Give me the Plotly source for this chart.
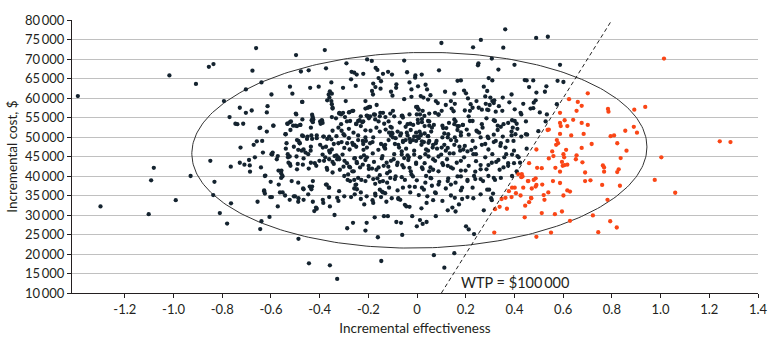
import numpy as np
import plotly.graph_objects as go

WTP = 100000  # willingness-to-pay threshold, $ per unit effectiveness

# (incremental effectiveness, incremental cost in $1000)
far_left = [(-1.393,60.5),(-1.017,65.8),(-0.908,63.6),(-0.855,68.0),(-0.836,68.7),(-0.793,59.2),(-0.661,72.8),(-0.676,67.0),(-0.703,62.2),(-0.770,55.1),(-0.728,57.5),(-0.746,53.4),(-0.738,53.3),(-0.714,53.4),(-0.703,56.2),(-0.679,56.8),(-0.658,48.9),(-0.671,48.0),(-0.725,47.3),(-0.666,44.8),(-0.849,43.9),(-1.081,42.1),(-0.765,42.4),(-0.728,43.4),(-0.709,42.9),(-0.690,44.1),(-0.687,42.7),(-0.686,41.1),
(-1.300,32.2),(-1.092,38.9),(-1.102,30.2),(-0.991,33.8),(-0.930,40.0),(-0.832,38.5),(-0.837,35.1),(-0.810,30.5),(-0.780,27.8),(-0.764,33.0),(-0.655,33.4),
(-0.639,64.0),(-0.617,56.3),(-0.614,57.9),(-0.647,52.3),(-0.617,51.4),(-0.633,46.0),(-0.623,40.1),(-0.628,36.1),(-0.625,35.5),(-0.639,28.4),(-0.644,26.4)]

upper_cloud = [(0.362,77.6),(0.262,74.9),(0.100,74.1),(0.230,73.0),(0.354,72.9),(-0.497,71.0),(-0.379,72.3),(0.307,70.1),(0.252,68.9),(0.250,68.4),(0.400,68.5),(-0.053,69.6),(-0.205,69.9),(-0.186,69.5),(-0.290,68.9),(-0.170,67.7),(-0.163,67.2),(-0.374,67.6),(-0.477,66.8),(-0.445,67.1),(-0.269,66.7),(-0.258,66.5),(-0.248,66.0),(-0.221,66.2),(-0.140,66.2),(-0.119,66.7),(-0.103,66.0),(-0.041,66.6),(-0.007,65.8),(0.019,66.0),(0.090,67.1),(-0.271,64.8),(-0.158,65.1),(-0.148,64.3),(-0.352,64.0),(-0.031,64.0),(-0.008,65.2),(0.166,64.4),(0.180,64.5),(0.294,65.1),(0.309,64.5),(0.334,67.3),(-0.522,62.9),(-0.512,61.1),(-0.439,62.6),(-0.404,62.9),(-0.304,62.6),(-0.252,63.1),(-0.180,63.7),(-0.171,62.8),(-0.150,62.4),(-0.085,63.5),(-0.086,62.6),(-0.023,62.2),(0.004,63.0),(0.035,63.4),(0.041,62.2),(-0.598,60.9),(-0.471,59.0),(-0.358,61.7),(-0.363,60.9),(-0.350,61.1),(-0.360,60.1),(-0.369,59.4),(-0.293,59.2),(-0.185,61.8),(-0.181,60.9),(-0.107,61.6),(-0.101,60.6),(-0.053,59.7),(-0.023,60.3),(0.015,60.5),(0.026,60.1),(0.045,59.6),(0.055,60.7),(0.077,59.2),(0.085,58.7),(0.115,61.6),(0.153,61.1),(0.139,59.2),(0.193,61.9),(0.201,61.2),(0.209,59.9),(0.244,59.2),(0.274,62.9),(0.288,61.8),(0.301,60.1),(0.309,59.2),(0.317,59.4),(0.280,60.4),(0.352,60.1),(0.388,60.9),
(-0.498,56.0),(-0.352,59.2),(-0.347,57.5),(-0.429,55.2),(-0.428,54.4),(-0.390,54.1),(-0.319,56.2),(-0.312,55.8),(-0.277,56.4),(-0.262,56.7),(-0.212,59.2),(-0.202,57.5),(-0.193,57.7),(-0.166,58.2),(-0.204,55.4),(-0.193,55.3),(-0.151,56.2),(-0.130,55.1),(-0.099,56.7),(-0.063,55.4),(0.001,57.7),(0.007,57.0),(-0.001,55.8),(0.023,56.7),(0.030,55.4),(0.020,54.6),(0.088,55.8),(0.101,56.7),(0.155,58.5),(0.150,56.6),(0.196,56.8),(0.217,56.7),(0.253,57.5),(0.288,57.0),(0.293,56.9),(0.323,56.5),(0.336,57.9),(0.379,58.9),(0.401,57.1),
(-0.644,52.4),(-0.590,52.9),(-0.533,53.4),(-0.522,53.8),(-0.509,52.9),(-0.493,52.8),(-0.479,53.1),(-0.471,54.5),(-0.436,52.4),(-0.433,54.3),(-0.398,54.0),(-0.333,54.8),(-0.312,53.3),(-0.296,55.1),(-0.250,53.4),(-0.236,54.3),(-0.225,53.8),(-0.198,54.8),(-0.173,55.7),(-0.135,53.4),(-0.117,54.0),(-0.109,52.6),(-0.071,53.7),(-0.058,55.0),(-0.028,53.4),(-0.016,53.1),(0.003,54.4),(0.031,52.8),(0.050,54.0),(0.069,53.1),(0.104,52.9),(0.120,52.3),(0.158,54.0),(0.166,52.8),(0.188,53.1),(0.217,54.1),(0.266,53.3),(0.285,54.8),(0.320,54.1),(0.331,52.9),(0.344,52.6),(0.374,53.6),(0.393,52.4)]

middle_band = [(-0.636,49.0),(-0.598,45.6),(-0.541,50.7),(-0.520,51.8),(-0.539,47.0),(-0.530,44.8),(-0.522,43.1),(-0.506,47.5),(-0.495,45.0),(-0.487,49.0),(-0.482,48.4),(-0.468,50.2),(-0.466,46.8),(-0.452,49.5),(-0.447,45.6),(-0.431,49.5),(-0.436,47.5),(-0.412,49.7),(-0.398,48.0),(-0.387,47.3),(-0.385,50.1),(-0.369,49.5),(-0.352,49.4),(-0.358,46.0),(-0.339,45.1),(-0.328,44.3),(-0.323,44.8),(-0.306,45.5),(-0.298,50.4),(-0.287,48.4),(-0.277,46.8),(-0.263,48.0),(-0.250,47.5),(-0.255,44.6),(-0.242,50.4),(-0.223,49.0),(-0.212,49.9),(-0.220,46.7),(-0.206,47.3),(-0.231,44.8),(-0.193,48.4),(-0.182,45.8),(-0.180,49.9),(-0.159,46.7),(-0.136,47.7),(-0.131,47.0),(-0.117,49.2),(-0.115,51.1),(-0.107,50.4),(-0.101,50.9),(-0.088,49.7),(-0.077,48.0),(-0.069,50.4),(-0.058,49.0),(-0.045,47.0),(-0.053,44.6),(-0.039,50.4),(-0.028,48.7),(-0.017,49.2),(-0.004,49.0),(0.001,50.1),(0.010,51.4),(0.015,50.7),(0.018,48.0),(0.028,48.7),(0.037,46.8),(0.045,50.2),(0.047,48.5),(0.058,51.4),(0.064,47.3),(0.080,49.0),(0.104,49.9),(0.112,48.0),(0.126,47.2),(0.128,50.7),(0.155,49.9),(0.161,49.0),(0.174,47.5),(0.180,50.4),(0.196,47.7),(0.212,50.6),(0.228,49.0),(0.239,47.3),(0.244,51.6),(0.261,49.9),(0.280,48.2),(0.293,49.7),(0.315,50.6),(0.323,49.0),(0.342,47.7),(0.352,50.1),(0.363,47.3),(0.371,49.0),(0.388,50.4),(0.396,49.0),
(-0.641,42.2),(-0.595,45.5),(-0.576,44.3),(-0.557,41.4),(-0.490,43.1),(-0.466,44.5),(-0.436,43.4),(-0.414,42.6),(-0.382,43.9),(-0.371,42.1),(-0.342,43.1),(-0.317,41.6),(-0.298,43.9),(-0.279,42.4),(-0.260,41.2),(-0.247,43.3),(-0.223,42.9),(-0.206,44.8),(-0.198,41.8),(-0.177,43.6),(-0.158,42.2),(-0.142,45.1),(-0.125,43.4),(-0.112,41.2),(-0.096,44.3),(-0.082,42.8),(-0.063,45.5),(-0.055,42.2),(-0.036,44.1),(-0.026,41.2),(-0.012,45.5),(-0.004,43.1),(0.012,44.8),(0.023,41.8),(0.031,43.3),(0.047,45.0),(0.055,42.2),(0.074,43.9),(0.088,41.2),(0.099,45.5),(0.107,42.8),(0.123,44.3),(0.139,42.2),(0.150,45.8),(0.163,43.4),(0.180,41.4),(0.193,44.8),(0.212,42.6),(0.231,45.6),(0.242,43.8),(0.261,41.7),(0.280,44.8),(0.293,42.8),(0.309,45.6),(0.325,43.6),(0.339,41.6),(0.358,44.8),(0.374,42.6),(0.390,45.5),(0.398,43.3)]

lower_cloud = [(-0.625,40.0),(-0.558,39.5),(-0.568,37.8),(-0.628,36.3),(-0.603,34.6),(-0.552,35.8),(-0.506,34.8),(-0.487,34.3),(-0.468,36.8),(-0.441,37.3),(-0.431,37.3),(-0.428,38.7),(-0.371,37.8),(-0.363,37.0),(-0.387,33.9),(-0.328,34.4),(-0.320,36.1),(-0.285,39.0),(-0.271,34.6),(-0.258,36.8),(-0.250,37.8),(-0.242,39.5),(-0.231,35.8),(-0.217,32.7),(-0.180,33.1),(-0.171,35.0),(-0.144,36.0),(-0.131,35.6),(-0.163,39.4),(-0.153,38.5),(-0.115,37.0),(-0.088,39.9),(-0.077,34.3),(-0.069,33.9),(-0.050,32.6),(-0.031,37.3),(-0.017,39.9),(0.007,35.1),(0.020,37.0),(0.034,38.3),(0.042,34.8),(0.039,33.1),(0.055,39.5),(0.077,35.6),(0.088,37.8),(0.104,33.6),(0.126,38.7),(0.139,37.8),(0.155,34.4),(0.166,39.9),(0.185,37.0),(0.207,39.0),(0.231,34.3),(0.239,39.2),(0.274,31.2),(0.296,36.5),(0.304,34.3),(0.315,39.5),
(-0.606,29.5),(-0.487,23.9),(-0.422,31.0),(-0.412,31.6),(-0.339,30.0),(-0.287,26.6),(-0.263,28.0),(-0.207,28.0),(-0.212,26.0),(-0.161,24.3),(-0.174,29.4),(-0.136,29.7),(-0.120,29.7),(-0.085,28.2),(-0.066,28.0),(-0.061,24.9),(-0.020,29.7),(-0.001,27.1),(0.012,28.7),(0.023,27.7),(0.039,28.2),(0.077,29.7),(0.126,31.2),(0.158,30.9),(0.201,27.1),(0.212,26.3),(0.234,25.1),(-0.444,17.6),(-0.358,17.1),(-0.328,13.6),(-0.147,18.2),(0.069,19.7),(0.112,16.5),(0.153,20.2)]

core_left = [(-0.472,59.0),(-0.350,58.4),(-0.347,57.3),(-0.212,57.3),(-0.196,57.7),(-0.266,56.7),(-0.280,56.3),(-0.320,56.0),(-0.304,56.2),(-0.496,55.8),(-0.431,55.7),(-0.428,54.8),(-0.426,54.5),(-0.391,54.3),(-0.388,53.6),(-0.350,55.1),(-0.231,55.3),(-0.207,55.5),(-0.177,55.8),(-0.140,56.2),(-0.153,55.3),(-0.110,56.0),(-0.094,55.3),(-0.590,52.9),(-0.531,53.4),(-0.518,54.0),(-0.499,52.9),(-0.480,53.1),(-0.539,50.7),(-0.428,53.8),(-0.396,53.4),(-0.288,54.0),(-0.275,54.1),(-0.242,54.1),(-0.221,54.0),(-0.250,53.3),(-0.231,52.8),(-0.323,52.4),(-0.172,54.5),(-0.158,54.0),(-0.347,51.6),(-0.310,51.6),(-0.261,51.1),(-0.280,52.1),(-0.212,51.7),(-0.191,51.6),(-0.167,52.4),(-0.153,51.4),(-0.129,51.9),(-0.104,52.4),(-0.104,51.1),(-0.472,50.4),(-0.450,50.1),(-0.434,50.4),(-0.412,50.4),(-0.383,50.1),(-0.361,50.1),(-0.331,50.2),(-0.302,50.7),(-0.280,49.7),(-0.493,49.2),(-0.482,48.4),(-0.488,46.7),(-0.536,48.4),(-0.593,46.0),(-0.572,45.1),(-0.531,45.6),(-0.523,45.0),(-0.474,46.5),(-0.458,46.0),(-0.437,46.5),(-0.374,47.5),(-0.342,48.2),(-0.388,45.5),(-0.361,46.5),(-0.350,46.8),(-0.323,48.4),(-0.310,48.7),(-0.299,47.2),(-0.266,48.5),(-0.258,48.0),(-0.242,49.2),(-0.221,48.2),(-0.210,49.0),(-0.183,48.7),(-0.148,48.2),(-0.134,47.3),(-0.131,48.0),(-0.099,49.9),(-0.091,48.2),
(-0.569,41.4),(-0.558,40.7),(-0.553,40.0),(-0.528,43.4),(-0.520,42.6),(-0.493,41.7),(-0.469,42.9),(-0.445,41.9),(-0.420,43.3),(-0.401,43.9),(-0.377,44.8),(-0.361,44.3),(-0.347,43.6),(-0.331,45.3),(-0.320,44.3),(-0.369,41.6),(-0.347,40.9),(-0.302,42.4),(-0.288,43.3),(-0.275,42.2),(-0.258,44.5),(-0.248,43.6),(-0.266,41.2),(-0.234,42.2),(-0.218,45.3),(-0.212,44.1),(-0.199,42.6),(-0.185,41.9),(-0.167,41.6),(-0.145,44.5),(-0.137,42.6),(-0.118,42.4),(-0.123,40.7),(-0.107,43.9),(-0.094,45.6),
(-0.601,38.5),(-0.553,39.9),(-0.515,38.7),(-0.488,38.3),(-0.466,36.6),(-0.437,37.2),(-0.434,36.6),(-0.374,37.8),(-0.361,37.0),(-0.299,40.0),(-0.283,40.4),(-0.275,38.7),(-0.258,39.0),(-0.253,37.7),(-0.247,36.6),(-0.229,39.0),(-0.212,38.7),(-0.199,39.9),(-0.180,39.2),(-0.172,38.0),(-0.153,40.2),(-0.140,38.7),(-0.123,38.3),(-0.110,39.5),(-0.091,39.2),(-0.153,36.5),(-0.140,35.8),(-0.596,34.6),(-0.563,35.8),(-0.542,35.0),(-0.523,33.9),(-0.501,34.8),(-0.488,33.4),(-0.466,33.9),(-0.447,35.3),(-0.428,33.4),(-0.385,33.1),(-0.361,34.6),(-0.323,33.6),(-0.299,34.8),(-0.256,35.3),(-0.231,34.1),(-0.207,34.8),(-0.183,33.8),(-0.172,35.5),(-0.148,34.6),(-0.126,33.4),(-0.104,34.3),(-0.572,32.2),(-0.415,31.9),(-0.358,32.2)]

core_right = [(-0.004,57.7),(0.004,57.2),(0.012,55.8),(0.050,56.0),(0.074,56.2),(0.088,55.7),(-0.061,55.5),(-0.031,55.8),(0.118,58.2),(0.142,57.3),(0.220,58.4),(0.228,57.5),(0.282,58.5),(0.298,58.2),(0.315,58.7),(0.266,57.0),(0.350,56.7),(0.428,55.8),(0.212,55.3),(0.153,54.5),(-0.039,53.3),(-0.047,52.6),(0.004,53.6),(0.020,53.8),(0.045,54.1),(0.050,52.9),(0.061,52.4),(0.107,52.3),(0.131,53.6),(0.153,53.3),(0.172,52.8),(0.188,53.1),(0.228,54.1),(0.269,52.4),(0.315,54.3),(0.355,53.3),(0.390,54.3),(-0.080,51.4),(-0.066,50.9),(-0.042,51.1),(-0.026,51.8),(-0.012,50.1),(-0.004,51.1),(0.015,50.4),(0.031,50.9),(0.045,50.2),(-0.058,48.7),(-0.047,49.2),(-0.031,49.5),(0.007,49.7),(0.020,48.9),(0.050,49.0),(0.066,48.0),(0.077,48.4),(0.112,50.9),(0.126,49.9),(0.139,49.2),(0.166,51.8),(0.180,51.2),(0.204,51.9),(0.247,51.4),(0.255,51.1),(0.290,50.1),(0.331,51.8),(0.388,51.4),(0.404,50.7),(0.082,47.0),(0.101,47.3),(0.118,46.5),(0.134,45.8),(0.153,48.0),(0.177,46.5),(0.190,46.8),(0.207,46.3),(0.223,46.7),(0.242,45.6),(0.266,48.0),(0.293,46.8),(0.315,48.7),(0.344,48.4),(0.366,45.6),(0.398,46.5),(-0.074,47.3),(-0.063,46.3),(-0.039,45.3),(-0.034,44.8),(-0.012,46.5),(0.012,44.8),(0.034,45.6),(0.045,46.5),(0.066,44.3),(0.088,45.0),
(-0.080,43.4),(-0.061,42.8),(-0.031,42.1),(-0.004,43.4),(0.020,42.2),(0.050,41.2),(0.066,41.6),(0.104,43.3),(0.126,42.6),(0.147,41.9),(0.180,43.9),(0.199,41.4),(0.239,41.1),(0.261,42.8),(0.285,41.7),(0.307,43.4),(0.334,44.1),(0.355,42.2),(0.374,43.3),(-0.063,39.7),(-0.050,39.0),(-0.023,40.4),(-0.001,38.9),(0.037,40.0),(0.058,39.4),(0.091,38.5),(0.128,39.4),(0.158,38.3),(0.180,39.9),(0.207,38.7),(0.234,40.0),(0.261,39.2),(0.271,38.7),(0.293,40.0),(0.320,39.0),(0.344,39.5),(-0.080,36.3),(-0.058,37.0),(-0.028,35.8),(-0.009,37.2),(0.028,36.5),(0.061,37.5),(0.074,35.8),(0.118,36.8),(0.139,35.0),(0.180,36.3),(0.207,34.6),(0.228,37.0),(0.261,35.3),(0.288,36.5),(0.312,35.5),(-0.077,34.1),(-0.044,32.2),(-0.031,32.1),(0.018,31.7),(0.066,33.8),(0.145,31.9),(0.172,32.7),(0.185,34.1),(0.307,33.8)]

near_line = [(0.489,75.4),(0.537,75.7),(0.587,68.5),(0.442,64.6),(0.450,64.5),(0.477,64.5),(0.577,64.4),(0.601,64.1),(0.460,62.8),(0.531,63.0),(0.490,61.4),(0.525,61.6),(0.436,58.5),(0.479,58.8),(0.487,59.4),(0.466,57.3),(0.477,57.4),(0.574,58.4),(0.504,56.3),(0.425,56.2),(0.533,55.8),(0.401,54.1),(0.409,53.4),(0.447,54.0),(0.528,54.0),(0.412,52.1),(0.447,50.7),(0.452,50.6),(0.498,51.5),(0.428,50.1),(0.450,47.0),(0.412,45.1),(0.417,44.8),(0.423,43.4),(0.409,41.2)]

right_cloud = [(1.014,70.1),(0.701,61.2),(0.624,59.7),(0.660,59.0),(0.676,58.0),(0.655,56.7),(0.587,56.2),(0.784,57.2),(0.786,56.5),(0.892,57.0),(0.937,57.7),(0.606,54.3),(0.641,54.4),(0.587,53.6),(0.590,52.8),(0.617,52.8),(0.676,53.6),(0.701,53.1),(0.536,51.8),(0.541,51.9),(0.855,51.6),(0.890,52.6),(0.903,51.1),(0.587,50.8),(0.633,50.4),(0.684,50.8),(0.795,50.2),(0.809,50.4),(0.574,49.2),(0.579,48.4),(0.571,48.0),(0.717,48.2),(0.822,48.4),(0.490,46.8),(0.612,46.7),(0.676,47.2),(0.860,46.5),(0.555,46.3),(0.601,45.6),(0.604,44.8),(0.655,45.3),(0.652,44.3),(0.560,45.1),(0.541,44.5),(0.836,44.6),(1.003,44.8),(1.243,48.9),(1.287,48.7),(0.595,43.6),(0.679,43.5),(0.460,43.3),(0.493,42.1),(0.512,42.0),(0.568,42.1),(0.598,42.6),(0.606,42.8),(0.617,42.9),(0.763,42.7),(0.768,42.2),(0.828,41.7),(0.587,41.1),(0.690,40.9),(0.768,41.1),(0.822,41.0),
(0.428,39.7),(0.433,39.9),(0.401,37.0),(0.436,37.0),(0.455,38.7),(0.471,36.8),(0.479,39.0),(0.487,39.4),(0.490,37.7),(0.487,37.3),(0.514,37.8),(0.558,38.7),(0.587,38.2),(0.690,38.7),(0.712,38.9),(0.760,37.7),(0.833,37.5),(0.976,39.0),(1.060,35.7),(0.617,36.3),(0.628,36.0),(0.520,35.1),(0.523,33.9),(0.539,35.8),(0.601,35.0),(0.406,35.6),(0.425,35.0),(0.469,34.3),(0.460,33.3),(0.444,32.4),(0.782,33.9),(0.512,30.5),(0.442,29.4),(0.566,30.2),(0.595,30.9),(0.628,28.5),(0.722,29.9),(0.793,28.4),(0.820,26.8),(0.744,25.6),(0.550,25.5),(0.490,24.4),
(0.468,34.4),(0.457,38.7),(0.430,40.5),(0.390,40.0),(0.415,40.5),(0.390,37.0),(0.377,36.1),(0.388,34.6),(0.347,34.1),(0.339,32.1),(0.369,31.6),(0.317,25.5),(0.320,31.5),(0.363,34.4)]

x_ticks = [-1.2, -1.0, -0.8, -0.6, -0.4, -0.2, 0, 0.2, 0.4, 0.6, 0.8, 1.0, 1.2, 1.4]
x_ticktext = ["-1.2", "-1.0", "-0.8", "-0.6", "-0.4", "-0.2", "0", "0.2", "0.4", "0.6", "0.8", "1.0", "1.2", "1.4"]
y_ticks = list(range(10000, 80001, 5000))
y_ticktext = [f"{v // 1000}\u2009000" for v in y_ticks]

# ellipse
ell_cx, ell_cy = 0.0095, 46600
ell_a, ell_b, ell_tilt = 0.9345, 25070, 850

DARK = "#14232f"
ORANGE = "#fa4616"
FONT = "Lato"

pts = far_left + upper_cloud + middle_band + lower_cloud + core_left + core_right + near_line + right_cloud
eff = np.array([p[0] for p in pts])
cost = np.array([p[1] for p in pts]) * 1000
ce = WTP * eff > cost

fig = go.Figure()
t = np.linspace(0, 2 * np.pi, 300)
fig.add_trace(go.Scatter(x=ell_cx + ell_a * np.cos(t), y=ell_cy + ell_b * np.sin(t) + ell_tilt * np.cos(t),
                         mode="lines", line=dict(color="#333333", width=1), hoverinfo="skip"))
fig.add_trace(go.Scatter(x=eff[~ce], y=cost[~ce], mode="markers",
                         marker=dict(color=DARK, size=4.3, line=dict(width=0))))
fig.add_trace(go.Scatter(x=eff[ce], y=cost[ce], mode="markers",
                         marker=dict(color=ORANGE, size=4.3, line=dict(width=0))))
fig.add_trace(go.Scatter(x=[10000 / WTP, 80000 / WTP], y=[10000, 80000], mode="lines",
                         line=dict(color="#222222", width=1, dash="4px,3px")))

fig.add_annotation(x=0.172, y=12700, text="WTP = $100\u2009000", showarrow=False,
                   xanchor="left", yanchor="middle", font=dict(family=FONT, size=14.5, color="#231f20"))

fig.update_layout(
    width=780, height=348, showlegend=False,
    margin=dict(l=71, r=13, t=18, b=55),
    plot_bgcolor="white", paper_bgcolor="white",
    font=dict(family=FONT, size=13, color="#231f20"),
    xaxis=dict(range=[-1.417, 1.4], tickvals=x_ticks, ticktext=x_ticktext, showgrid=False,
               zeroline=False, showline=True, linecolor="#231f20", linewidth=1,
               ticks="outside", ticklen=4, tickcolor="#231f20", tickfont=dict(size=13),
               title=dict(text="Incremental effectiveness", standoff=7, font=dict(size=13.5))),
    yaxis=dict(range=[10000, 80000], tickvals=y_ticks, ticktext=y_ticktext, showgrid=True,
               gridcolor="#c0c0c0", gridwidth=1.2, zeroline=False, showline=True,
               linecolor="#231f20", linewidth=1, ticks="outside", ticklen=4, tickcolor="#231f20",
               tickfont=dict(size=13),
               title=dict(text="Incremental cost, $", standoff=4, font=dict(size=13.5))),
)
fig.write_html("out.html")
